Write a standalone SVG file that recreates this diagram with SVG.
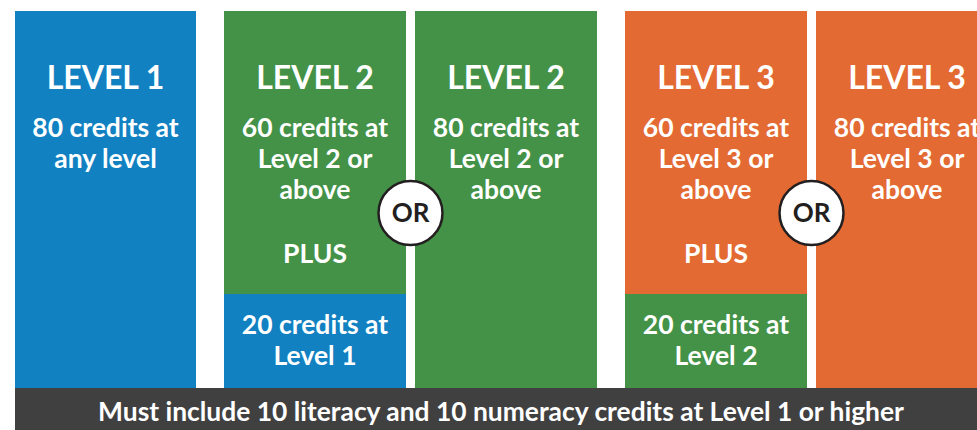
<svg xmlns="http://www.w3.org/2000/svg" width="977" height="430" viewBox="0 0 977 430">
<style>
.blue{fill:#1281C2}.green{fill:#439247}.orange{fill:#E36A32}
text{font-family:Lato,"Open Sans","Liberation Sans",sans-serif;font-weight:bold;fill:#fff;text-anchor:middle}
.h{font-size:32px}
.b{font-size:26.5px}
.or{fill:#231F20;font-size:26px}
.circ{fill:#fff;stroke:#231F20;stroke-width:2.5}
.foot{font-size:26.4px}
</style>
<rect width="977" height="430" fill="#fff"/>
<g id="level1">
<rect class="blue" x="15" y="11" width="181" height="377"/>
<text class="h" x="105.5" y="89">LEVEL 1</text>
<text class="b" x="105.5" y="137">80 credits at</text>
<text class="b" x="105.5" y="168">any level</text>
</g>
<g id="level2a">
<rect class="green" x="224" y="11" width="182" height="283"/>
<rect class="blue" x="224" y="294" width="182" height="94"/>
<text class="h" x="315" y="89">LEVEL 2</text>
<text class="b" x="315" y="137">60 credits at</text>
<text class="b" x="315" y="168">Level 2 or</text>
<text class="b" x="315" y="199">above</text>
<text class="b" x="315" y="263">PLUS</text>
<text class="b" x="315" y="334">20 credits at</text>
<text class="b" x="315" y="365">Level 1</text>
</g>
<g id="level2b">
<rect class="green" x="415" y="11" width="182" height="377"/>
<text class="h" x="506" y="89">LEVEL 2</text>
<text class="b" x="506" y="137">80 credits at</text>
<text class="b" x="506" y="168">Level 2 or</text>
<text class="b" x="506" y="199">above</text>
</g>
<g id="level3a">
<rect class="orange" x="625" y="11" width="182" height="283"/>
<rect class="green" x="625" y="294" width="182" height="94"/>
<text class="h" x="716" y="89">LEVEL 3</text>
<text class="b" x="716" y="137">60 credits at</text>
<text class="b" x="716" y="168">Level 3 or</text>
<text class="b" x="716" y="199">above</text>
<text class="b" x="716" y="263">PLUS</text>
<text class="b" x="716" y="334">20 credits at</text>
<text class="b" x="716" y="365">Level 2</text>
</g>
<g id="level3b">
<rect class="orange" x="816" y="11" width="161" height="377"/>
<text class="h" x="907" y="89">LEVEL 3</text>
<text class="b" x="907" y="137">80 credits at</text>
<text class="b" x="907" y="168">Level 3 or</text>
<text class="b" x="907" y="199">above</text>
</g>
<g id="or1">
<circle class="circ" cx="410.5" cy="213" r="32"/>
<text class="or" x="410.5" y="222">OR</text>
</g>
<g id="or2">
<circle class="circ" cx="811.5" cy="213" r="32"/>
<text class="or" x="811.5" y="222">OR</text>
</g>
<g id="footer">
<rect x="15" y="388" width="962" height="42" fill="#404040"/>
<text class="foot" x="501" y="421">Must include 10 literacy and 10 numeracy credits at Level 1 or higher</text>
</g>
<g id="connectors"/>
</svg>
